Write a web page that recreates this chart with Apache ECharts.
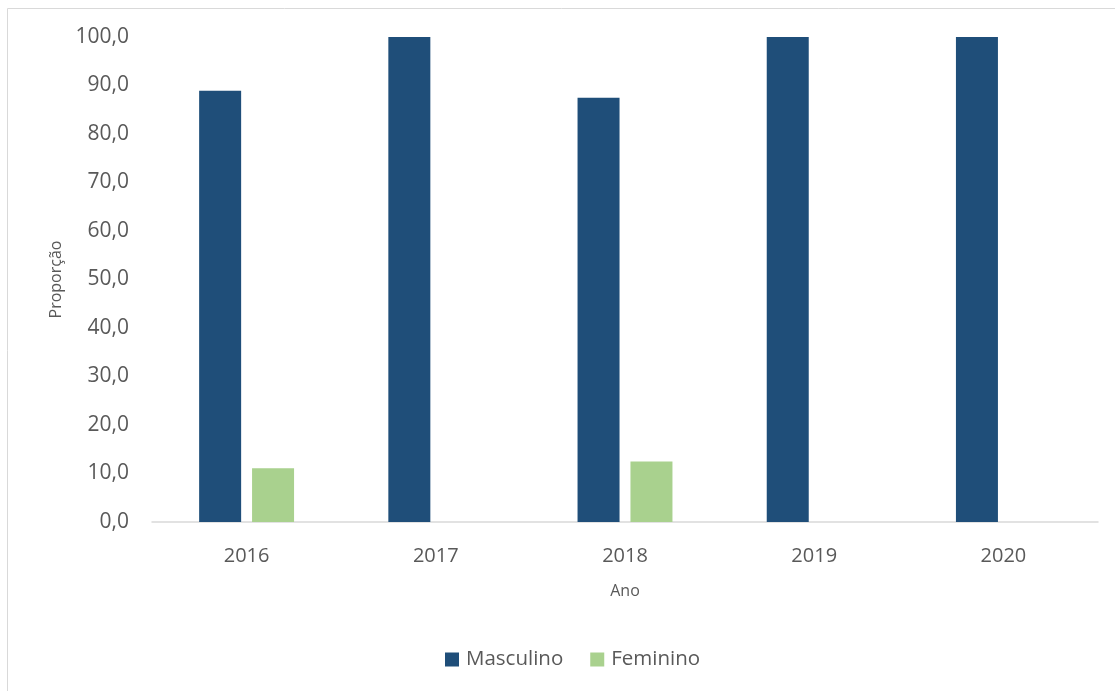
<!DOCTYPE html>
<html>
<head>
<meta charset="utf-8">
<script src="https://cdn.jsdelivr.net/npm/echarts@6/dist/echarts.min.js"></script>
<style>
  html, body { margin: 0; padding: 0; background: #fff; }
  #grafico { width: 1115px; height: 691px; }
</style>
</head>
<body>
<div id="grafico"></div>
<script>
// dados
var anos = ['2016', '2017', '2018', '2019', '2020'];
var masculino = [88.9, 100.0, 87.5, 100.0, 100.0];
var feminino = [11.1, 0, 12.5, 0, 0];

var fonte = '"Open Sans", sans-serif';
var corTexto = '#595959';

var chartDom = document.getElementById('grafico');
var myChart = echarts.init(chartDom);

var option = {
    animation: false,
    textStyle: { fontFamily: fonte },
    graphic: [{
        type: 'rect',
        shape: { x: 7.5, y: 8.5, width: 1130, height: 700 },
        style: { fill: 'none', stroke: '#d9d9d9', lineWidth: 1 },
        silent: true
    }],
    grid: { left: 152, right: 17, top: 37, bottom: 169 },
    legend: {
        left: 445,
        top: 649,
        padding: 0,
        itemWidth: 14,
        itemHeight: 14,
        itemGap: 27,
        icon: 'rect',
        textStyle: { fontFamily: fonte, fontSize: 20.5, color: corTexto, padding: [0, 0, 0, 2] },
        data: ['Masculino', 'Feminino']
    },
    xAxis: {
        type: 'category',
        data: anos,
        name: 'Ano',
        nameLocation: 'middle',
        nameGap: 61,
        nameTextStyle: { fontFamily: fonte, fontSize: 16, color: corTexto },
        axisLine: { lineStyle: { color: '#d9d9d9', width: 1.5 } },
        axisTick: { show: false },
        axisLabel: { fontFamily: fonte, fontSize: 20, color: corTexto, margin: 24 }
    },
    yAxis: {
        type: 'value',
        min: 0,
        max: 100,
        interval: 10,
        name: 'Proporção',
        nameLocation: 'middle',
        nameGap: 88,
        nameTextStyle: { fontFamily: fonte, fontSize: 16, color: corTexto },
        axisLine: { show: false },
        axisTick: { show: false },
        splitLine: { show: false },
        axisLabel: {
            fontFamily: fonte, fontSize: 21, color: corTexto, margin: 23,
            formatter: function (v) { return v.toFixed(1).replace('.', ','); }
        }
    },
    series: [{
        name: 'Masculino',
        type: 'bar',
        data: masculino,
        barWidth: 42,
        barGap: '26%',
        itemStyle: { color: '#1f4e79' }
    }, {
        name: 'Feminino',
        type: 'bar',
        data: feminino,
        barWidth: 42,
        itemStyle: { color: '#a9d18e' }
    }]
};

myChart.setOption(option);
</script>
</body>
</html>
